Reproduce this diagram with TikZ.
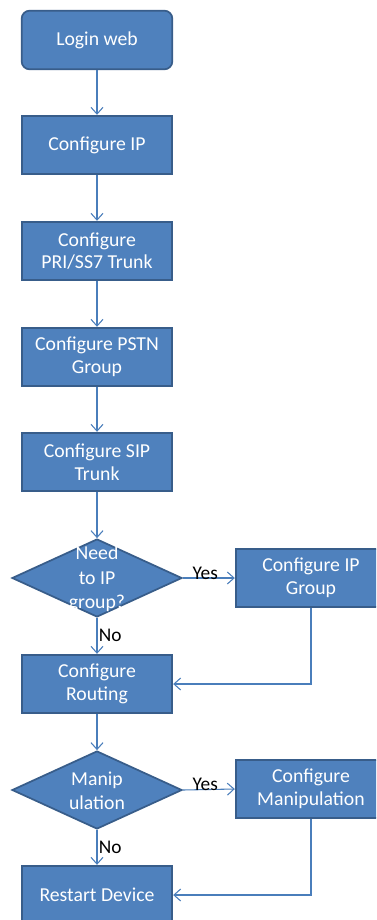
\documentclass[tikz,border=0pt]{standalone}
\usepackage{fontspec}
\setmainfont{Carlito}
\usetikzlibrary{shapes.geometric,arrows.meta}
\definecolor{boxfill}{HTML}{4F81BD}
\definecolor{boxline}{HTML}{385D8A}
\definecolor{arrowc}{HTML}{4A7EBB}
\begin{document}
\begin{tikzpicture}[x=0.75pt,y=-0.75pt,
  proc/.style={rectangle,draw=boxline,fill=boxfill,line width=1.3pt,minimum width=113pt,minimum height=44pt,inner sep=1pt,text=white,font=\fontsize{14.8}{17}\selectfont,align=center},
  rproc/.style={proc,rounded corners=6pt},
  dec/.style={diamond,draw=boxline,fill=boxfill,line width=1.3pt,minimum width=127.5pt,minimum height=58.5pt,inner sep=0pt},
  dtext/.style={text=white,font=\fontsize{14.8}{18.3}\selectfont,align=center,inner sep=0pt},
  lbl/.style={font=\fontsize{14.5}{17}\selectfont,text=black,inner sep=1pt},
  flow/.style={draw=arrowc,line width=0.8pt,-{Straight Barb[length=5pt,width=9pt]}}]
\clip (0,0) rectangle (376,920);
\fill[white] (0,0) rectangle (376,920);
\node[rproc] (login) at (97,40) {Login web};
\node[proc] (ip) at (97,145) {Configure IP};
\node[proc] (pri) at (97,251) {Configure\\PRI/SS7 Trunk};
\node[proc] (pstn) at (97,357) {Configure PSTN\\Group};
\node[proc] (sip) at (97,462) {Configure SIP\\Trunk};
\node[dec] (d1) at (97,578) {};
\node[dtext] (d1t) at (97,579) {Need\\to IP\\group?};
\node[proc] (ipg) at (311,578) {Configure IP\\Group};
\node[proc] (route) at (97,684) {Configure\\Routing};
\node[dec] (d2) at (97,790) {};
\node[dtext] (d2t) at (97,791) {Manip\\ulation};
\node[proc] (manip) at (311,789) {Configure\\Manipulation};
\node[proc] (restart) at (97,895) {Restart Device};
\draw[flow] (login) -- (ip);
\draw[flow] (ip) -- (pri);
\draw[flow] (pri) -- (pstn);
\draw[flow] (pstn) -- (sip);
\draw[flow] (sip) -- (d1);
\draw[flow] (d1.east) -- node[lbl,above,pos=0.43,yshift=-2.5pt] (yes1) {Yes} (ipg.west);
\draw[flow] (d1.south) -- node[lbl,right,pos=0.5] (no1) {No} (route.north);
\draw[flow] (ipg.south) |- (route.east);
\draw[flow] (route) -- (d2);
\draw[flow] (d2.east) -- node[lbl,above,pos=0.43,yshift=-2.5pt] (yes2) {Yes} (manip.west);
\draw[flow] (d2.south) -- node[lbl,right,pos=0.5] (no2) {No} (restart.north);
\draw[flow] (manip.south) |- (restart.east);
\end{tikzpicture}
\end{document}
